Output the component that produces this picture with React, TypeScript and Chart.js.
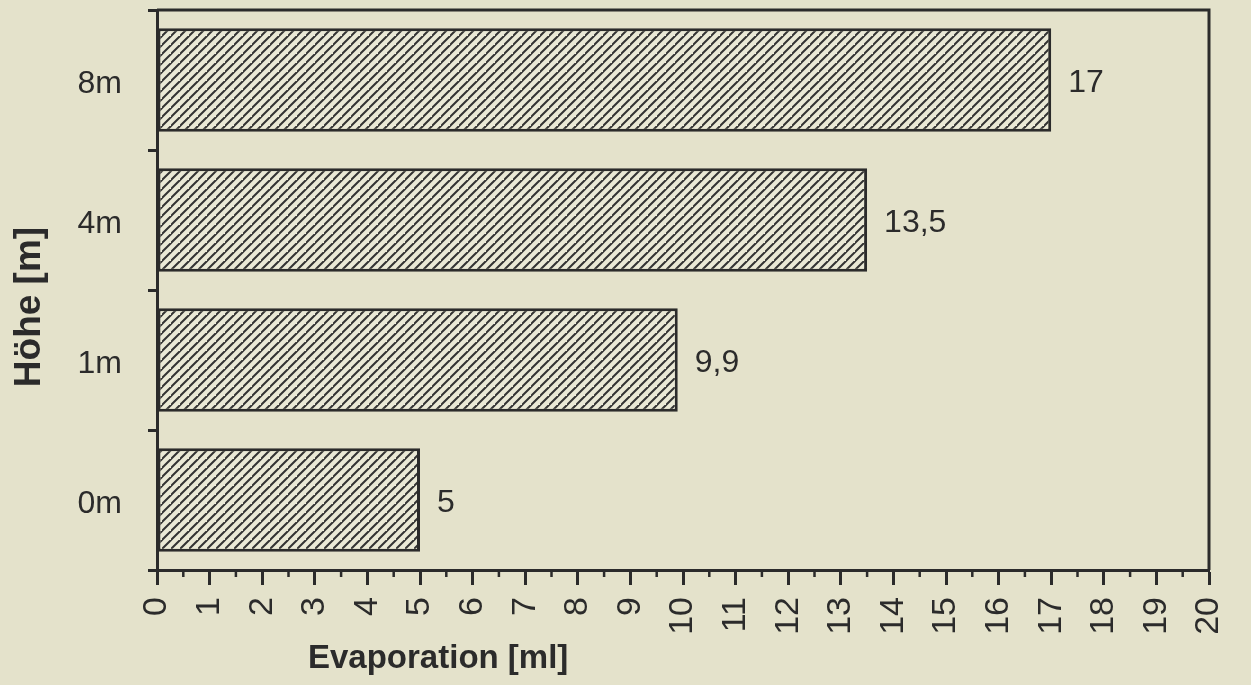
import { useEffect, useRef } from 'react';
import { Chart, registerables } from 'chart.js';

Chart.register(...registerables);

const categories = ['8m', '4m', '1m', '0m'];
const values = [17, 13.5, 9.9, 5];
const xMin = 0;
const xMax = 20;
const xTitle = 'Evaporation [ml]';
const yTitle = 'Höhe [m]';

const BG = '#e4e2cb';
const INK = '#2b2b2b';
const FONT = '"Liberation Sans", Arial, Helvetica, sans-serif';

function makeHatch(): CanvasPattern | string {
  const s = 9;
  const c = document.createElement('canvas');
  c.width = s;
  c.height = s;
  const g = c.getContext('2d');
  if (!g) return '#cccccc';
  g.fillStyle = '#eae9d6';
  g.fillRect(0, 0, s, s);
  g.strokeStyle = '#333333';
  g.lineWidth = 2;
  g.beginPath();
  g.moveTo(-1, s + 1);
  g.lineTo(s + 1, -1);
  g.moveTo(-1 - s, s + 1);
  g.lineTo(1, -1);
  g.moveTo(s - 1, 2 * s + 1);
  g.lineTo(2 * s + 1, s - 1);
  g.stroke();
  const p = g.createPattern(c, 'repeat');
  return p || '#cccccc';
}

const framePlugin = {
  id: 'frameAndLabels',
  afterDraw(chart: any) {
    const { ctx, chartArea } = chart;
    const { left, top, right, bottom } = chartArea;
    const xs = chart.scales.x;
    ctx.save();
    ctx.strokeStyle = INK;
    ctx.lineWidth = 3;
    ctx.beginPath();
    ctx.moveTo(left, top);
    ctx.lineTo(right, top);
    ctx.lineTo(right, bottom);
    ctx.stroke();
    // minor ticks at half steps
    ctx.lineWidth = 2.5;
    ctx.beginPath();
    for (let v = xMin + 0.5; v < xMax; v += 1) {
      const px = xs.getPixelForValue(v);
      ctx.moveTo(px, bottom);
      ctx.lineTo(px, bottom + 7);
    }
    ctx.stroke();
    // value labels
    const meta = chart.getDatasetMeta(0);
    ctx.fillStyle = INK;
    ctx.font = `32px ${FONT}`;
    ctx.textAlign = 'left';
    ctx.textBaseline = 'middle';
    meta.data.forEach((bar: any, i: number) => {
      const txt = String(values[i]).replace('.', ',');
      ctx.fillText(txt, bar.x + 17, bar.y + 3);
    });
    // x axis title
    ctx.font = `bold 33px ${FONT}`;
    ctx.textBaseline = 'middle';
    ctx.fillText(xTitle, left + 151, chart.height - 26);
    // y axis title
    ctx.translate(30, (top + bottom) / 2 + 17);
    ctx.rotate(-Math.PI / 2);
    ctx.textAlign = 'center';
    ctx.font = `bold 37px ${FONT}`;
    ctx.fillText(yTitle, 0, 0);
    ctx.restore();
  },
};

export default function App() {
  const ref = useRef<HTMLCanvasElement | null>(null);

  useEffect(() => {
    if (!ref.current) return;
    const chart = new Chart(ref.current, {
      type: 'bar',
      data: {
        labels: categories,
        datasets: [
          {
            data: values,
            backgroundColor: makeHatch() as any,
            borderColor: INK,
            borderWidth: 3,
            borderSkipped: false,
            barPercentage: 0.74,
            categoryPercentage: 1,
          },
        ],
      },
      options: {
        indexAxis: 'y',
        responsive: false,
        animation: false,
        layout: { padding: { top: 10, right: 42, left: 0, bottom: 0 } },
        plugins: {
          legend: { display: false },
          tooltip: { enabled: false },
          title: { display: false },
        },
        scales: {
          x: {
            type: 'linear',
            min: xMin,
            max: xMax,
            afterFit(scale: any) {
              scale.height = 115;
              scale.paddingLeft = 0;
              scale.paddingRight = 0;
              scale.paddingTop = 0;
              scale.paddingBottom = 0;
            },
            ticks: {
              stepSize: 1,
              autoSkip: false,
              minRotation: 90,
              maxRotation: 90,
              padding: 12,
              color: INK,
              font: { family: FONT, size: 34 },
            },
            grid: {
              drawOnChartArea: false,
              drawTicks: true,
              tickLength: 15,
              tickWidth: 3,
              tickColor: INK,
              offset: false,
            },
            border: { display: true, color: INK, width: 3 },
          },
          y: {
            type: 'category',
            afterFit(scale: any) {
              scale.width = 157;
              scale.paddingLeft = 0;
              scale.paddingRight = 0;
              scale.paddingTop = 0;
              scale.paddingBottom = 0;
            },
            title: { display: false },
            ticks: {
              padding: 26,
              labelOffset: 4,
              color: INK,
              font: { family: FONT, size: 32 },
            },
            grid: {
              offset: true,
              drawOnChartArea: false,
              drawTicks: true,
              tickLength: 9,
              tickWidth: 3,
              tickColor: INK,
            },
            border: { display: true, color: INK, width: 3 },
          },
        },
      },
      plugins: [framePlugin],
    });
    return () => chart.destroy();
  }, []);

  return (
    <div
      style={{
        position: 'absolute',
        left: 0,
        top: 0,
        width: 1251,
        height: 685,
        background: BG,
      }}
    >
      <canvas ref={ref} width={1251} height={685} />
    </div>
  );
}
